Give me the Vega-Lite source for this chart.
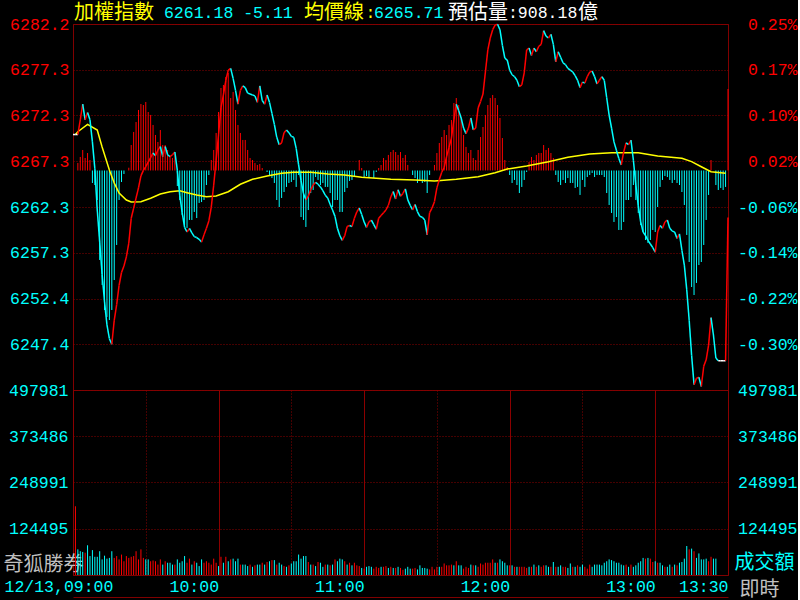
{
"$schema":"https://vega.github.io/schema/vega-lite/v6.json",
"background":"#000000",
"padding":{"left":2,"top":0,"right":0,"bottom":0},
"autosize":{"type":"pad"},
"bounds":"flush",
"spacing":0,
"resolve":{"scale":{"color":"independent"}},
"config":{
 "view":{"stroke":"#800000","strokeWidth":1},
 "axis":{"domain":false,"ticks":false,"tickSize":0,"labelFont":"Liberation Mono","labelFontSize":16.5,"gridColor":"#8B0000","gridOpacity":1,"gridWidth":1,"labelOverlap":false,"labelFlush":false,"labelBound":false}
},
"datasets":{
"hdr":[
{"t":"加權指數","m":0.4,"k":"name","f":"cjk"},
{"t":"6261.18 -5.11","m":37.5,"k":"value","f":"num"},
{"t":"均價線","m":95.2,"k":"name","f":"cjk"},
{"t":":","m":120.6,"k":"name","f":"num"},
{"t":"6265.71","m":124.1,"k":"value","f":"num"},
{"t":"預估量","m":154.6,"k":"estimate","f":"cjk"},
{"t":":908.18","m":179.3,"k":"estimate","f":"num"},
{"t":"億","m":208.2,"k":"estimate","f":"cjk"}
],
"px":[
{"m":0,"p":6270.2},{"m":1,"p":6270.2},{"m":2,"p":6270.2},{"m":3,"p":6271.8},{"m":4,"p":6273.5},{"m":5,"p":6271.8},{"m":6,"p":6272.6},{"m":7,"p":6271.8},{"m":8,"p":6269.4},{"m":9,"p":6266.5},
{"m":10,"p":6262.0},{"m":11,"p":6258.5},{"m":12,"p":6255.0},{"m":13,"p":6252.0},{"m":14,"p":6249.5},{"m":15,"p":6248.0},{"m":16,"p":6247.4},{"m":17,"p":6250.0},{"m":18,"p":6251.7},{"m":19,"p":6253.8},
{"m":20,"p":6255.2},{"m":21,"p":6255.9},{"m":22,"p":6256.9},{"m":23,"p":6258.4},{"m":24,"p":6261.1},{"m":25,"p":6262.2},{"m":26,"p":6263.3},{"m":27,"p":6264.4},{"m":28,"p":6265.7},{"m":29,"p":6266.3},
{"m":30,"p":6266.7},{"m":31,"p":6267.2},{"m":32,"p":6267.7},{"m":33,"p":6268.2},{"m":34,"p":6267.9},{"m":35,"p":6268.5},{"m":36,"p":6268.9},{"m":37,"p":6267.8},{"m":38,"p":6268.9},{"m":39,"p":6268.0},
{"m":40,"p":6267.8},{"m":41,"p":6268.0},{"m":42,"p":6268.3},{"m":43,"p":6266.3},{"m":44,"p":6263.6},{"m":45,"p":6261.7},{"m":46,"p":6260.1},{"m":47,"p":6259.6},{"m":48,"p":6260.0},{"m":49,"p":6259.5},
{"m":50,"p":6259.1},{"m":51,"p":6259.0},{"m":52,"p":6258.8},{"m":53,"p":6258.5},{"m":54,"p":6259.3},{"m":55,"p":6260.0},{"m":56,"p":6260.8},{"m":57,"p":6262.3},{"m":58,"p":6264.7},{"m":59,"p":6267.4},
{"m":60,"p":6270.2},{"m":61,"p":6273.1},{"m":62,"p":6274.5},{"m":63,"p":6276.1},{"m":64,"p":6277.2},{"m":65,"p":6277.4},{"m":66,"p":6276.3},{"m":67,"p":6275.0},{"m":68,"p":6273.5},{"m":69,"p":6275.0},
{"m":70,"p":6275.5},{"m":71,"p":6275.3},{"m":72,"p":6274.7},{"m":73,"p":6274.6},{"m":74,"p":6274.5},{"m":75,"p":6274.4},{"m":76,"p":6273.7},{"m":77,"p":6275.5},{"m":78,"p":6273.9},{"m":79,"p":6273.5},
{"m":80,"p":6274.5},{"m":81,"p":6273.7},{"m":82,"p":6272.5},{"m":83,"p":6271.3},{"m":84,"p":6269.9},{"m":85,"p":6269.1},{"m":86,"p":6269.3},{"m":87,"p":6270.4},{"m":88,"p":6270.7},{"m":89,"p":6270.4},
{"m":90,"p":6270.0},{"m":91,"p":6269.9},{"m":92,"p":6268.7},{"m":93,"p":6266.9},{"m":94,"p":6265.2},{"m":95,"p":6263.8},{"m":96,"p":6263.1},{"m":97,"p":6263.5},{"m":98,"p":6264.2},{"m":99,"p":6264.7},
{"m":100,"p":6265.0},{"m":101,"p":6264.8},{"m":102,"p":6264.5},{"m":103,"p":6264.1},{"m":104,"p":6263.6},{"m":105,"p":6263.3},{"m":106,"p":6262.6},{"m":107,"p":6262.0},{"m":108,"p":6261.3},{"m":109,"p":6260.0},
{"m":110,"p":6259.2},{"m":111,"p":6258.7},{"m":112,"p":6259.2},{"m":113,"p":6260.2},{"m":114,"p":6260.3},{"m":115,"p":6260.2},{"m":116,"p":6261.1},{"m":117,"p":6261.8},{"m":118,"p":6262.2},{"m":119,"p":6261.5},
{"m":120,"p":6260.7},{"m":121,"p":6260.1},{"m":122,"p":6260.7},{"m":123,"p":6260.9},{"m":124,"p":6260.4},{"m":125,"p":6259.9},{"m":126,"p":6261.1},{"m":127,"p":6261.4},{"m":128,"p":6261.7},{"m":129,"p":6262.0},
{"m":130,"p":6262.5},{"m":131,"p":6263.4},{"m":132,"p":6264.0},{"m":133,"p":6263.2},{"m":134,"p":6264.2},{"m":135,"p":6263.5},{"m":136,"p":6263.8},{"m":137,"p":6264.3},{"m":138,"p":6263.1},{"m":139,"p":6262.5},
{"m":140,"p":6262.0},{"m":141,"p":6262.6},{"m":142,"p":6261.8},{"m":143,"p":6261.3},{"m":144,"p":6261.2},{"m":145,"p":6260.9},{"m":146,"p":6259.3},{"m":147,"p":6261.7},{"m":148,"p":6262.2},{"m":149,"p":6262.9},
{"m":150,"p":6264.4},{"m":151,"p":6265.3},{"m":152,"p":6266.1},{"m":153,"p":6266.6},{"m":154,"p":6267.8},{"m":155,"p":6268.8},{"m":156,"p":6269.8},{"m":157,"p":6271.8},{"m":158,"p":6273.5},{"m":159,"p":6272.8},
{"m":160,"p":6272.0},{"m":161,"p":6270.9},{"m":162,"p":6270.3},{"m":163,"p":6270.9},{"m":164,"p":6272.0},{"m":165,"p":6270.7},{"m":166,"p":6270.9},{"m":167,"p":6273.1},{"m":168,"p":6273.8},{"m":169,"p":6274.6},
{"m":170,"p":6277.0},{"m":171,"p":6279.4},{"m":172,"p":6280.7},{"m":173,"p":6281.6},{"m":174,"p":6282.1},{"m":175,"p":6282.2},{"m":176,"p":6281.6},{"m":177,"p":6279.9},{"m":178,"p":6278.5},{"m":179,"p":6278.3},
{"m":180,"p":6277.2},{"m":181,"p":6276.7},{"m":182,"p":6276.5},{"m":183,"p":6276.1},{"m":184,"p":6275.4},{"m":185,"p":6275.6},{"m":186,"p":6276.9},{"m":187,"p":6279.4},{"m":188,"p":6279.6},{"m":189,"p":6278.8},
{"m":190,"p":6279.6},{"m":191,"p":6279.2},{"m":192,"p":6279.8},{"m":193,"p":6280.0},{"m":194,"p":6281.5},{"m":195,"p":6280.9},{"m":196,"p":6280.7},{"m":197,"p":6281.1},{"m":198,"p":6280.0},{"m":199,"p":6278.1},
{"m":200,"p":6279.2},{"m":201,"p":6278.6},{"m":202,"p":6278.0},{"m":203,"p":6277.8},{"m":204,"p":6277.4},{"m":205,"p":6277.2},{"m":206,"p":6277.0},{"m":207,"p":6276.6},{"m":208,"p":6276.1},{"m":209,"p":6275.3},
{"m":210,"p":6275.9},{"m":211,"p":6275.8},{"m":212,"p":6276.5},{"m":213,"p":6277.0},{"m":214,"p":6277.1},{"m":215,"p":6276.5},{"m":216,"p":6275.7},{"m":217,"p":6276.1},{"m":218,"p":6276.5},{"m":219,"p":6276.1},
{"m":220,"p":6274.2},{"m":221,"p":6272.3},{"m":222,"p":6270.9},{"m":223,"p":6269.4},{"m":224,"p":6268.5},{"m":225,"p":6267.6},{"m":226,"p":6266.9},{"m":227,"p":6268.3},{"m":228,"p":6269.3},{"m":229,"p":6269.1},
{"m":230,"p":6269.6},{"m":231,"p":6267.4},{"m":232,"p":6264.7},{"m":233,"p":6262.5},{"m":234,"p":6260.7},{"m":235,"p":6259.6},{"m":236,"p":6259.2},{"m":237,"p":6258.7},{"m":238,"p":6258.3},{"m":239,"p":6257.9},
{"m":240,"p":6257.4},{"m":241,"p":6259.6},{"m":242,"p":6260.3},{"m":243,"p":6260.0},{"m":244,"p":6260.7},{"m":245,"p":6260.9},{"m":246,"p":6260.0},{"m":247,"p":6259.7},{"m":248,"p":6259.6},{"m":249,"p":6258.9},
{"m":250,"p":6259.4},{"m":251,"p":6257.6},{"m":252,"p":6256.0},{"m":253,"p":6253.3},{"m":254,"p":6250.0},{"m":255,"p":6246.2},{"m":256,"p":6243.0},{"m":257,"p":6243.7},{"m":258,"p":6243.8},{"m":259,"p":6242.8},
{"m":260,"p":6245.0},{"m":261,"p":6245.7},{"m":262,"p":6247.3},{"m":263,"p":6250.3},{"m":264,"p":6248.4},{"m":265,"p":6245.9},{"m":266,"p":6245.6},{"m":267,"p":6245.6},{"m":268,"p":6245.6},{"m":269,"p":6245.6},
{"m":270,"p":6261.18}
],
"avg":[
{"m":1,"a":6270.2},{"m":2,"a":6270.51},{"m":6,"a":6271.31},{"m":10,"a":6270.69},{"m":12,"a":6268.85},{"m":15,"a":6266.34},{"m":17,"a":6264.93},{"m":19,"a":6263.84},{"m":22,"a":6263.08},{"m":24,"a":6262.86},
{"m":28,"a":6262.9},{"m":32,"a":6263.27},{"m":36,"a":6263.73},{"m":40,"a":6263.98},{"m":44,"a":6264.09},{"m":47,"a":6263.88},{"m":51,"a":6263.62},{"m":55,"a":6263.44},{"m":59,"a":6263.52},{"m":64,"a":6263.98},
{"m":69,"a":6264.79},{"m":74,"a":6265.33},{"m":80,"a":6265.69},{"m":86,"a":6265.99},{"m":91,"a":6266.09},{"m":98,"a":6266.09},{"m":105,"a":6265.91},{"m":112,"a":6265.8},{"m":119,"a":6265.55},{"m":125,"a":6265.44},
{"m":131,"a":6265.33},{"m":141,"a":6265.26},{"m":149,"a":6265.15},{"m":158,"a":6265.33},{"m":167,"a":6265.62},{"m":174,"a":6266.05},{"m":179,"a":6266.45},{"m":187,"a":6266.78},{"m":196,"a":6267.25},{"m":204,"a":6267.73},
{"m":213,"a":6268.08},{"m":222,"a":6268.23},{"m":233,"a":6268.23},{"m":241,"a":6267.87},{"m":251,"a":6267.62},{"m":255,"a":6267.25},{"m":259,"a":6266.7},{"m":263,"a":6266.16},{"m":269,"a":6265.99}
],
"bar":[
{"m":2,"h":0.82},{"m":3,"h":1.47},{"m":4,"h":2.23},{"m":5,"h":1.36},{"m":6,"h":1.9},{"m":7,"h":1.14},{"m":8,"h":-1.36},{"m":9,"h":-1.58},
{"m":10,"h":-3.21},{"m":11,"h":-9.73},{"m":12,"h":-12.45},{"m":13,"h":-15.17},{"m":14,"h":-15.93},{"m":15,"h":-16.26},{"m":16,"h":-15.17},{"m":17,"h":-11.91},{"m":18,"h":-8.1},{"m":19,"h":-3.21},
{"m":20,"h":-1.25},{"m":21,"h":-0.38},{"m":23,"h":0.3},{"m":24,"h":2.77},{"m":25,"h":4.19},{"m":26,"h":5.27},{"m":27,"h":6.58},{"m":28,"h":7.23},{"m":29,"h":7.12},
{"m":30,"h":7.45},{"m":31,"h":6.36},{"m":32,"h":6.04},{"m":33,"h":4.95},{"m":34,"h":3.86},{"m":35,"h":3.1},{"m":36,"h":4.4},{"m":37,"h":2.77},{"m":38,"h":2.77},{"m":39,"h":2.23},
{"m":40,"h":1.47},{"m":41,"h":1.36},{"m":42,"h":1.79},{"m":43,"h":-1.69},{"m":44,"h":-3.21},{"m":45,"h":-4.84},{"m":46,"h":-5.93},{"m":47,"h":-6.25},{"m":48,"h":-5.38},{"m":49,"h":-5.38},
{"m":50,"h":-4.51},{"m":51,"h":-5.17},{"m":52,"h":-3.53},{"m":53,"h":-3.43},{"m":54,"h":-3.21},{"m":55,"h":-1.58},{"m":56,"h":-0.49},{"m":57,"h":1.14},{"m":58,"h":2.23},{"m":59,"h":4.08},
{"m":60,"h":6.36},{"m":61,"h":8.97},{"m":62,"h":9.3},{"m":63,"h":10.17},{"m":64,"h":10.6},{"m":65,"h":7.88},{"m":66,"h":8.54},{"m":67,"h":6.58},{"m":68,"h":4.95},{"m":69,"h":4.08},
{"m":70,"h":3.32},{"m":71,"h":3.32},{"m":72,"h":2.23},{"m":73,"h":1.36},{"m":74,"h":1.14},{"m":75,"h":0.82},{"m":76,"h":0.6},{"m":77,"h":0.71},{"m":78,"h":0.27},
{"m":80,"h":-0.16},{"m":81,"h":-0.49},{"m":82,"h":-0.82},{"m":83,"h":-1.36},{"m":84,"h":-3.21},{"m":85,"h":-3.97},{"m":86,"h":-2.99},{"m":87,"h":-2.34},{"m":88,"h":-1.79},{"m":89,"h":-1.36},
{"m":90,"h":-1.25},{"m":91,"h":-1.03},{"m":92,"h":-1.79},{"m":93,"h":-0.49},{"m":94,"h":-5.06},{"m":95,"h":-5.38},{"m":96,"h":-6.14},{"m":97,"h":-4.3},{"m":98,"h":-2.45},{"m":99,"h":-2.12},
{"m":100,"h":-0.71},{"m":101,"h":-1.03},{"m":102,"h":-1.58},{"m":103,"h":-1.36},{"m":104,"h":-1.79},{"m":105,"h":-1.79},{"m":106,"h":-2.45},{"m":107,"h":-3.97},{"m":108,"h":-3.21},{"m":109,"h":-3.21},
{"m":110,"h":-4.51},{"m":111,"h":-4.51},{"m":112,"h":-2.34},{"m":113,"h":-1.9},{"m":114,"h":-1.14},{"m":115,"h":-1.03},{"m":116,"h":-0.6},{"m":118,"h":1.14},{"m":119,"h":0.27},
{"m":120,"h":-0.82},{"m":121,"h":-0.6},{"m":122,"h":-0.71},{"m":124,"h":-0.82},{"m":125,"h":-0.16},{"m":126,"h":0.27},{"m":127,"h":0.6},{"m":128,"h":1.36},{"m":129,"h":1.14},
{"m":130,"h":1.69},{"m":131,"h":2.01},{"m":132,"h":2.23},{"m":133,"h":2.01},{"m":134,"h":1.69},{"m":135,"h":2.01},{"m":136,"h":1.36},{"m":137,"h":1.69},{"m":138,"h":0.6},
{"m":140,"h":-0.49},{"m":141,"h":-0.82},{"m":142,"h":-1.36},{"m":143,"h":-1.03},{"m":144,"h":-1.36},{"m":145,"h":-1.25},{"m":146,"h":-2.45},{"m":147,"h":-0.49},{"m":149,"h":0.6},
{"m":150,"h":1.9},{"m":151,"h":2.99},{"m":152,"h":3.64},{"m":153,"h":4.4},{"m":154,"h":3.86},{"m":155,"h":4.95},{"m":156,"h":5.49},{"m":157,"h":7.34},{"m":158,"h":7.88},{"m":159,"h":7.12},
{"m":160,"h":5.82},{"m":161,"h":3.86},{"m":162,"h":2.56},{"m":163,"h":1.9},{"m":164,"h":2.23},{"m":165,"h":1.36},{"m":166,"h":1.14},{"m":167,"h":2.23},{"m":168,"h":3.64},{"m":169,"h":4.73},
{"m":170,"h":6.04},{"m":171,"h":7.12},{"m":172,"h":7.88},{"m":173,"h":8.21},{"m":174,"h":7.88},{"m":175,"h":7.12},{"m":176,"h":5.71},{"m":177,"h":3.53},{"m":178,"h":1.14},{"m":179,"h":0.38},
{"m":180,"h":-0.49},{"m":181,"h":-1.36},{"m":182,"h":-1.03},{"m":183,"h":-1.58},{"m":184,"h":-2.45},{"m":185,"h":-1.79},{"m":186,"h":-1.03},{"m":187,"h":-0.16},{"m":188,"h":0.92},{"m":189,"h":1.47},
{"m":190,"h":1.14},{"m":191,"h":1.69},{"m":192,"h":1.9},{"m":193,"h":1.9},{"m":194,"h":2.77},{"m":195,"h":2.23},{"m":196,"h":2.45},{"m":197,"h":1.9},{"m":198,"h":1.36},{"m":199,"h":-0.49},
{"m":200,"h":-1.25},{"m":201,"h":-1.58},{"m":202,"h":-1.03},{"m":203,"h":-1.36},{"m":204,"h":-0.82},{"m":205,"h":-1.36},{"m":206,"h":-1.36},{"m":207,"h":-1.9},{"m":208,"h":-1.79},{"m":209,"h":-2.66},
{"m":210,"h":-1.03},{"m":211,"h":-1.79},{"m":212,"h":-0.71},{"m":213,"h":-0.49},{"m":214,"h":-0.27},{"m":215,"h":-0.71},{"m":216,"h":-0.49},{"m":217,"h":-0.49},{"m":218,"h":-0.49},{"m":219,"h":-0.71},
{"m":220,"h":-2.45},{"m":221,"h":-3.75},{"m":222,"h":-4.62},{"m":223,"h":-5.6},{"m":224,"h":-5.06},{"m":225,"h":-6.47},{"m":226,"h":-6.47},{"m":227,"h":-5.6},{"m":228,"h":-3.21},{"m":229,"h":-3.21},
{"m":230,"h":-2.88},{"m":231,"h":-1.58},{"m":232,"h":-3.21},{"m":233,"h":-4.62},{"m":234,"h":-5.93},{"m":235,"h":-6.69},{"m":236,"h":-7.56},{"m":237,"h":-7.88},{"m":238,"h":-7.56},{"m":239,"h":-6.47},
{"m":240,"h":-6.69},{"m":241,"h":-3.97},{"m":242,"h":-1.79},{"m":243,"h":-1.03},{"m":244,"h":-0.6},{"m":245,"h":-0.71},{"m":246,"h":-1.03},{"m":247,"h":-1.36},{"m":248,"h":-1.03},{"m":249,"h":-1.36},
{"m":250,"h":-1.58},{"m":251,"h":-2.34},{"m":252,"h":-3.75},{"m":253,"h":-7.01},{"m":254,"h":-9.95},{"m":255,"h":-12.67},{"m":256,"h":-13.54},{"m":257,"h":-12.23},{"m":258,"h":-10.28},{"m":259,"h":-9.95},
{"m":260,"h":-8.1},{"m":261,"h":-5.38},{"m":262,"h":-2.66},{"m":263,"h":1.14},{"m":265,"h":-1.58},{"m":266,"h":-2.12},{"m":267,"h":-1.9},{"m":268,"h":-2.12},{"m":269,"h":-1.79},
{"m":270,"h":8.86}
],
"vol":[
{"m":1,"v":185000,"d":"u"},{"m":2,"v":69000,"d":"d"},{"m":3,"v":64000,"d":"d"},{"m":4,"v":62000,"d":"d"},{"m":5,"v":60000,"d":"u"},{"m":6,"v":80000,"d":"d"},{"m":7,"v":51000,"d":"d"},{"m":8,"v":67000,"d":"d"},{"m":9,"v":49000,"d":"d"},
{"m":10,"v":49000,"d":"d"},{"m":11,"v":64000,"d":"d"},{"m":12,"v":42000,"d":"d"},{"m":13,"v":52000,"d":"d"},{"m":14,"v":44000,"d":"d"},{"m":15,"v":46000,"d":"d"},{"m":16,"v":64000,"d":"d"},{"m":17,"v":46000,"d":"u"},{"m":18,"v":51000,"d":"u"},{"m":19,"v":42000,"d":"u"},
{"m":20,"v":55000,"d":"u"},{"m":21,"v":37000,"d":"u"},{"m":22,"v":51000,"d":"u"},{"m":23,"v":46000,"d":"u"},{"m":24,"v":49000,"d":"u"},{"m":25,"v":51000,"d":"u"},{"m":26,"v":64000,"d":"u"},{"m":27,"v":42000,"d":"u"},{"m":28,"v":69000,"d":"u"},{"m":29,"v":46000,"d":"u"},
{"m":30,"v":42000,"d":"d"},{"m":31,"v":42000,"d":"d"},{"m":32,"v":37000,"d":"u"},{"m":33,"v":39000,"d":"u"},{"m":34,"v":37000,"d":"u"},{"m":35,"v":28000,"d":"u"},{"m":36,"v":42000,"d":"u"},{"m":37,"v":28000,"d":"d"},{"m":38,"v":37000,"d":"u"},{"m":39,"v":33000,"d":"d"},
{"m":40,"v":33000,"d":"d"},{"m":41,"v":28000,"d":"d"},{"m":42,"v":28000,"d":"u"},{"m":43,"v":42000,"d":"d"},{"m":44,"v":33000,"d":"d"},{"m":45,"v":37000,"d":"d"},{"m":46,"v":51000,"d":"d"},{"m":47,"v":33000,"d":"u"},{"m":48,"v":44000,"d":"u"},{"m":49,"v":28000,"d":"d"},
{"m":50,"v":37000,"d":"u"},{"m":51,"v":33000,"d":"d"},{"m":52,"v":24000,"d":"d"},{"m":53,"v":42000,"d":"d"},{"m":54,"v":33000,"d":"u"},{"m":55,"v":37000,"d":"u"},{"m":56,"v":33000,"d":"u"},{"m":57,"v":28000,"d":"u"},{"m":58,"v":44000,"d":"u"},{"m":59,"v":33000,"d":"u"},
{"m":60,"v":24000,"d":"d"},{"m":61,"v":49000,"d":"u"},{"m":62,"v":33000,"d":"d"},{"m":63,"v":49000,"d":"u"},{"m":64,"v":37000,"d":"d"},{"m":65,"v":42000,"d":"u"},{"m":66,"v":44000,"d":"d"},{"m":67,"v":37000,"d":"d"},{"m":68,"v":44000,"d":"d"},{"m":69,"v":28000,"d":"u"},
{"m":70,"v":28000,"d":"d"},{"m":71,"v":28000,"d":"d"},{"m":72,"v":24000,"d":"d"},{"m":73,"v":28000,"d":"u"},{"m":74,"v":22000,"d":"d"},{"m":75,"v":26000,"d":"u"},{"m":76,"v":28000,"d":"d"},{"m":77,"v":28000,"d":"d"},{"m":78,"v":33000,"d":"u"},{"m":79,"v":28000,"d":"d"},
{"m":80,"v":35000,"d":"u"},{"m":81,"v":37000,"d":"d"},{"m":82,"v":40000,"d":"u"},{"m":83,"v":40000,"d":"d"},{"m":84,"v":28000,"d":"u"},{"m":85,"v":33000,"d":"d"},{"m":86,"v":28000,"d":"d"},{"m":87,"v":24000,"d":"u"},{"m":88,"v":22000,"d":"d"},{"m":89,"v":26000,"d":"u"},
{"m":90,"v":31000,"d":"d"},{"m":91,"v":37000,"d":"d"},{"m":92,"v":37000,"d":"d"},{"m":93,"v":55000,"d":"d"},{"m":94,"v":44000,"d":"d"},{"m":95,"v":51000,"d":"d"},{"m":96,"v":51000,"d":"d"},{"m":97,"v":35000,"d":"u"},{"m":98,"v":28000,"d":"d"},{"m":99,"v":28000,"d":"u"},
{"m":100,"v":24000,"d":"d"},{"m":101,"v":35000,"d":"u"},{"m":102,"v":33000,"d":"d"},{"m":103,"v":22000,"d":"d"},{"m":104,"v":28000,"d":"u"},{"m":105,"v":28000,"d":"d"},{"m":106,"v":26000,"d":"u"},{"m":107,"v":28000,"d":"d"},{"m":108,"v":42000,"d":"u"},{"m":109,"v":37000,"d":"d"},
{"m":110,"v":44000,"d":"d"},{"m":111,"v":42000,"d":"d"},{"m":112,"v":37000,"d":"u"},{"m":113,"v":28000,"d":"d"},{"m":114,"v":33000,"d":"u"},{"m":115,"v":26000,"d":"d"},{"m":116,"v":33000,"d":"u"},{"m":117,"v":26000,"d":"u"},{"m":118,"v":24000,"d":"u"},{"m":119,"v":19000,"d":"d"},
{"m":120,"v":17000,"d":"u"},{"m":121,"v":22000,"d":"d"},{"m":122,"v":24000,"d":"d"},{"m":123,"v":22000,"d":"d"},{"m":124,"v":17000,"d":"u"},{"m":125,"v":22000,"d":"u"},{"m":126,"v":19000,"d":"u"},{"m":127,"v":22000,"d":"d"},{"m":128,"v":22000,"d":"u"},{"m":129,"v":24000,"d":"u"},
{"m":130,"v":19000,"d":"d"},{"m":131,"v":22000,"d":"u"},{"m":132,"v":19000,"d":"d"},{"m":133,"v":19000,"d":"u"},{"m":134,"v":22000,"d":"d"},{"m":135,"v":19000,"d":"u"},{"m":136,"v":14000,"d":"u"},{"m":137,"v":17000,"d":"d"},{"m":138,"v":22000,"d":"d"},{"m":139,"v":17000,"d":"d"},
{"m":140,"v":17000,"d":"u"},{"m":141,"v":19000,"d":"u"},{"m":142,"v":15000,"d":"d"},{"m":143,"v":26000,"d":"d"},{"m":144,"v":19000,"d":"d"},{"m":145,"v":19000,"d":"d"},{"m":146,"v":17000,"d":"d"},{"m":147,"v":15000,"d":"u"},{"m":148,"v":22000,"d":"u"},{"m":149,"v":15000,"d":"u"},
{"m":150,"v":22000,"d":"u"},{"m":151,"v":22000,"d":"d"},{"m":152,"v":22000,"d":"u"},{"m":153,"v":31000,"d":"u"},{"m":154,"v":26000,"d":"u"},{"m":155,"v":26000,"d":"u"},{"m":156,"v":28000,"d":"u"},{"m":157,"v":26000,"d":"d"},{"m":158,"v":37000,"d":"u"},{"m":159,"v":26000,"d":"d"},
{"m":160,"v":26000,"d":"d"},{"m":161,"v":17000,"d":"u"},{"m":162,"v":22000,"d":"u"},{"m":163,"v":19000,"d":"u"},{"m":164,"v":28000,"d":"d"},{"m":165,"v":26000,"d":"u"},{"m":166,"v":26000,"d":"d"},{"m":167,"v":22000,"d":"u"},{"m":168,"v":31000,"d":"u"},{"m":169,"v":28000,"d":"u"},
{"m":170,"v":33000,"d":"u"},{"m":171,"v":33000,"d":"u"},{"m":172,"v":33000,"d":"u"},{"m":173,"v":42000,"d":"u"},{"m":174,"v":33000,"d":"d"},{"m":175,"v":33000,"d":"u"},{"m":176,"v":42000,"d":"d"},{"m":177,"v":37000,"d":"d"},{"m":178,"v":33000,"d":"d"},{"m":179,"v":26000,"d":"d"},
{"m":180,"v":26000,"d":"u"},{"m":181,"v":26000,"d":"d"},{"m":182,"v":22000,"d":"u"},{"m":183,"v":22000,"d":"d"},{"m":184,"v":22000,"d":"u"},{"m":185,"v":22000,"d":"u"},{"m":186,"v":22000,"d":"u"},{"m":187,"v":19000,"d":"u"},{"m":188,"v":22000,"d":"d"},{"m":189,"v":22000,"d":"u"},
{"m":190,"v":28000,"d":"d"},{"m":191,"v":22000,"d":"u"},{"m":192,"v":26000,"d":"d"},{"m":193,"v":22000,"d":"u"},{"m":194,"v":26000,"d":"u"},{"m":195,"v":26000,"d":"d"},{"m":196,"v":22000,"d":"d"},{"m":197,"v":22000,"d":"u"},{"m":198,"v":35000,"d":"d"},{"m":199,"v":22000,"d":"u"},
{"m":200,"v":22000,"d":"d"},{"m":201,"v":26000,"d":"d"},{"m":202,"v":22000,"d":"u"},{"m":203,"v":22000,"d":"u"},{"m":204,"v":19000,"d":"d"},{"m":205,"v":31000,"d":"d"},{"m":206,"v":22000,"d":"u"},{"m":207,"v":22000,"d":"d"},{"m":208,"v":26000,"d":"u"},{"m":209,"v":22000,"d":"d"},
{"m":210,"v":28000,"d":"d"},{"m":211,"v":22000,"d":"u"},{"m":212,"v":17000,"d":"u"},{"m":213,"v":28000,"d":"u"},{"m":214,"v":22000,"d":"d"},{"m":215,"v":28000,"d":"d"},{"m":216,"v":28000,"d":"d"},{"m":217,"v":28000,"d":"d"},{"m":218,"v":26000,"d":"d"},{"m":219,"v":33000,"d":"d"},
{"m":220,"v":37000,"d":"d"},{"m":221,"v":42000,"d":"d"},{"m":222,"v":40000,"d":"d"},{"m":223,"v":37000,"d":"d"},{"m":224,"v":33000,"d":"d"},{"m":225,"v":33000,"d":"d"},{"m":226,"v":28000,"d":"d"},{"m":227,"v":26000,"d":"d"},{"m":228,"v":28000,"d":"u"},{"m":229,"v":22000,"d":"d"},
{"m":230,"v":28000,"d":"u"},{"m":231,"v":22000,"d":"d"},{"m":232,"v":26000,"d":"d"},{"m":233,"v":33000,"d":"d"},{"m":234,"v":37000,"d":"d"},{"m":235,"v":46000,"d":"d"},{"m":236,"v":44000,"d":"u"},{"m":237,"v":46000,"d":"d"},{"m":238,"v":44000,"d":"u"},{"m":239,"v":35000,"d":"u"},
{"m":240,"v":37000,"d":"d"},{"m":241,"v":33000,"d":"u"},{"m":242,"v":33000,"d":"d"},{"m":243,"v":26000,"d":"d"},{"m":244,"v":22000,"d":"u"},{"m":245,"v":22000,"d":"d"},{"m":246,"v":28000,"d":"d"},{"m":247,"v":22000,"d":"u"},{"m":248,"v":28000,"d":"d"},{"m":249,"v":26000,"d":"u"},
{"m":250,"v":33000,"d":"d"},{"m":251,"v":35000,"d":"d"},{"m":252,"v":44000,"d":"d"},{"m":253,"v":78000,"d":"d"},{"m":254,"v":69000,"d":"u"},{"m":255,"v":71000,"d":"d"},{"m":256,"v":64000,"d":"u"},{"m":257,"v":46000,"d":"d"},{"m":258,"v":58000,"d":"d"},{"m":259,"v":42000,"d":"d"},
{"m":260,"v":42000,"d":"d"},{"m":261,"v":44000,"d":"d"},{"m":262,"v":37000,"d":"u"},{"m":263,"v":49000,"d":"u"},{"m":264,"v":44000,"d":"d"},{"m":265,"v":44000,"d":"d"}
]
},
"vconcat":[
{
 "width":655,"height":24,
 "view":{"stroke":null},
 "data":{"name":"hdr"},
 "layer":[
  {"transform":[{"filter":"datum.f == 'cjk'"}],
   "mark":{"type":"text","align":"left","baseline":"middle","font":"Noto Sans CJK TC","fontSize":20,"dy":0.5},
   "encoding":{
    "x":{"field":"m","type":"quantitative","scale":{"domain":[0,270],"nice":false,"zero":false},"axis":null},
    "text":{"field":"t"},
    "color":{"field":"k","type":"nominal","scale":{"domain":["name","value","estimate"],"range":["#FFFF00","#00FFFF","#FFFFFF"]},"legend":null}}},
  {"transform":[{"filter":"datum.f == 'num'"}],
   "mark":{"type":"text","align":"left","baseline":"middle","font":"Liberation Mono","fontSize":16.5,"dy":0.5},
   "encoding":{
    "x":{"field":"m","type":"quantitative","scale":{"domain":[0,270],"nice":false,"zero":false},"axis":null},
    "text":{"field":"t"},
    "color":{"field":"k","type":"nominal","scale":{"domain":["name","value","estimate"],"range":["#FFFF00","#00FFFF","#FFFFFF"]},"legend":null}}}
 ]
},
{
 "width":655,"height":366,
 "layer":[
  {"data":{"name":"bar"},
   "mark":{"type":"rule","strokeWidth":1},
   "encoding":{
    "x":{"field":"m","type":"quantitative","scale":{"domain":[0,270],"nice":false,"zero":false},
         "axis":{"orient":"bottom","values":[30,60,90,120,150,180,210,240],"labels":false,"grid":true,"title":null,
                 "gridDash":{"condition":{"test":"datum.value % 60 == 0","value":[]},"value":[1,2]}}},
    "y":{"field":"h","type":"quantitative","scale":{"domain":[-23.87,15.93],"nice":false,"zero":false},"axis":null},
    "y2":{"datum":0},
    "color":{"condition":{"test":"datum.h > 0","value":"#FF0000"},"value":"#00FFFF"}}},
  {"data":{"name":"avg"},
   "mark":{"type":"line","color":"#FFFF00","strokeWidth":1.5},
   "encoding":{
    "x":{"field":"m","type":"quantitative","scale":{"domain":[0,270],"nice":false,"zero":false},"axis":null},
    "y":{"field":"a","type":"quantitative","scale":{"domain":[6242.42,6282.22],"nice":false,"zero":false},
         "axis":{"orient":"right","values":[6282.22,6277.245,6272.27,6267.295,6262.32,6257.345,6252.37,6247.395],"grid":false,"title":null,
                 "labelAlign":"right","labelPadding":69,
                 "labelExpr":"['0.25%','0.17%','0.10%','0.02%','-0.06%','-0.14%','-0.22%','-0.30%'][round((6282.22 - datum.value) / 4.975)]",
                 "labelColor":{"condition":{"test":"datum.value > 6266.29","value":"#FF0000"},"value":"#00FFFF"}}}}},
  {"data":{"name":"px"},
   "transform":[
    {"window":[{"op":"lag","field":"p","as":"pp"},{"op":"lag","field":"m","as":"mp"}],"sort":[{"field":"m"}]},
    {"filter":"datum.pp != null"}],
   "mark":{"type":"rule","strokeWidth":1.5},
   "encoding":{
    "x":{"field":"mp","type":"quantitative","scale":{"domain":[0,270],"nice":false,"zero":false},"axis":null},
    "x2":{"field":"m"},
    "y":{"field":"pp","type":"quantitative","scale":{"domain":[6242.42,6282.22],"nice":false,"zero":false},
         "axis":{"orient":"left","values":[6282.22,6277.245,6272.27,6267.295,6262.32,6257.345,6252.37,6247.395],"grid":true,"gridDash":[1,2],"title":null,
                 "labelPadding":4,
                 "labelExpr":"['6282.2','6277.3','6272.3','6267.3','6262.3','6257.3','6252.4','6247.4'][round((6282.22 - datum.value) / 4.975)]",
                 "labelColor":{"condition":{"test":"datum.value > 6266.29","value":"#FF0000"},"value":"#00FFFF"}}},
    "y2":{"field":"p"},
    "color":{"condition":[{"test":"datum.p > datum.pp","value":"#FF0000"},{"test":"datum.p < datum.pp","value":"#00FFFF"}],"value":"#FFFFFF"}}}
 ],
 "resolve":{"scale":{"y":"independent"}}
},
{
 "width":655,"height":185,
 "data":{"name":"vol"},
 "encoding":{
  "x":{"field":"m","type":"quantitative","scale":{"domain":[0,270],"nice":false,"zero":false},
       "axis":{"orient":"bottom","offset":22,"domain":true,"domainColor":"#800000","values":[0,30,60,90,120,150,180,210,240,270],
               "grid":true,"gridDash":{"condition":{"test":"datum.value % 60 == 0 || datum.value == 270","value":[]},"value":[1,2]},
               "labelExpr":"datum.value == 0 ? '12/13,09:00' : datum.value == 270 ? '13:30' : (datum.value % 60 == 0 ? (9 + datum.value / 60) + ':00' : '')",
               "labelColor":"#00FFFF","labelBaseline":"middle","labelPadding":-11,
               "labelAlign":{"condition":{"test":"datum.value == 0","value":"left"},"value":"right"},
               "labelOffset":{"condition":{"test":"datum.value == 0","value":-69},"value":0},
               "title":"即時","titleX":686,"titleY":-8,"titleAngle":0,"titleAlign":"center","titleBaseline":"middle",
               "titleFont":"Noto Sans CJK TC","titleFontSize":20,"titleFontWeight":"normal","titleColor":"#C0C0C0"}}},
 "layer":[
  {"mark":{"type":"rule","strokeWidth":1},
   "encoding":{
    "y":{"field":"v","type":"quantitative","scale":{"domain":[0,497981],"nice":false},
         "axis":{"orient":"left","values":[124495,248991,373486,497981],"format":"d","grid":true,"gridDash":[1,2],
                 "labelColor":"#00FFFF","labelPadding":5,
                 "title":"奇狐勝券","titleX":-70,"titleY":174,"titleAngle":0,"titleAlign":"left","titleBaseline":"middle",
                 "titleFont":"Noto Sans CJK TC","titleFontSize":20,"titleFontWeight":"normal","titleColor":"#C0C0C0"}},
    "y2":{"datum":0},
    "color":{"condition":{"test":"datum.d == 'u'","value":"#FF0000"},"value":"#00FFFF"}}},
  {"mark":{"type":"rule","opacity":0},
   "encoding":{
    "y":{"field":"v","type":"quantitative","scale":{"domain":[0,497981],"nice":false},
         "axis":{"orient":"right","values":[124495,248991,373486,497981],"format":"d","grid":false,
                 "labelColor":"#00FFFF","labelAlign":"right","labelPadding":69,
                 "title":"成交額","titleX":6,"titleY":172,"titleAngle":0,"titleAlign":"left","titleBaseline":"middle",
                 "titleFont":"Noto Sans CJK TC","titleFontSize":20,"titleFontWeight":"normal","titleColor":"#00FFFF"}},
    "y2":{"datum":0}}}
 ],
 "resolve":{"scale":{"y":"independent"}}
}
]
}
